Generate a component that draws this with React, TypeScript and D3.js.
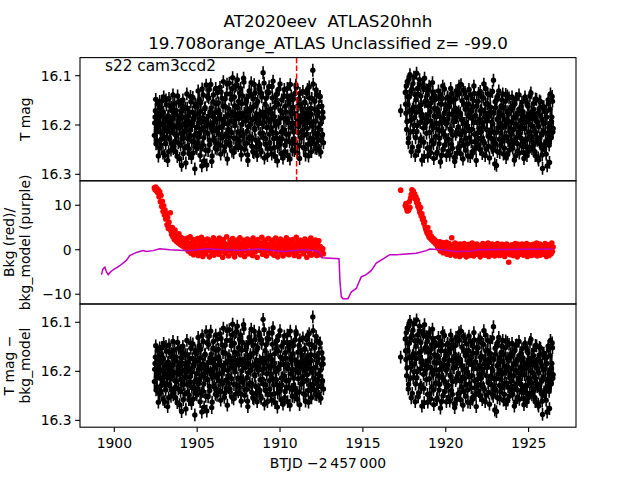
import React from "react";
import * as d3 from "d3";

// ---- data ----
const cadenceDays = 0.04;
const seg1Start = 1902.42;
const seg2Start = 1917.56;
const interleaveOffset = 0.02;
const magErr = 0.013;

const seg1Mag = [
  16.221, 16.184, 16.148, 16.205, 16.232, 16.176, 16.263, 16.195, 16.152, 16.214, 16.241, 16.168, 16.199, 16.257, 16.143, 16.226,
  16.187, 16.238, 16.159, 16.212, 16.272, 16.181, 16.146, 16.229, 16.196, 16.251, 16.164, 16.208, 16.139, 16.243, 16.177, 16.219,
  16.254, 16.171, 16.203, 16.141, 16.236, 16.189, 16.268, 16.158, 16.217, 16.282, 16.183, 16.149, 16.227, 16.198, 16.246, 16.166,
  16.211, 16.137, 16.243, 16.192, 16.258, 16.174, 16.221, 16.153, 16.266, 16.201, 16.144, 16.234, 16.185, 16.289, 16.162, 16.217,
  16.248, 16.178, 16.131, 16.225, 16.193, 16.262, 16.155, 16.209, 16.127, 16.241, 16.186, 16.273, 16.167, 16.214, 16.119, 16.281,
  16.196, 16.252, 16.145, 16.231, 16.174, 16.118, 16.206, 16.263, 16.183, 16.139, 16.227, 16.191, 16.247, 16.157, 16.212, 16.134,
  16.238, 16.171, 16.205, 16.124, 16.259, 16.188, 16.146, 16.222, 16.112, 16.197, 16.244, 16.163, 16.218, 16.137, 16.269, 16.179,
  16.209, 16.115, 16.236, 16.182, 16.148, 16.253, 16.104, 16.193, 16.227, 16.161, 16.121, 16.246, 16.186, 16.108, 16.214, 16.152,
  16.232, 16.176, 16.126, 16.261, 16.199, 16.141, 16.219, 16.113, 16.249, 16.184, 16.156, 16.237, 16.172, 16.272, 16.203, 16.131,
  16.224, 16.166, 16.114, 16.243, 16.189, 16.147, 16.256, 16.207, 16.135, 16.231, 16.178, 16.262, 16.152, 16.198, 16.121, 16.239,
  16.181, 16.255, 16.143, 16.216, 16.094, 16.195, 16.267, 16.158, 16.228, 16.174, 16.133, 16.247, 16.189, 16.122, 16.236, 16.168,
  16.206, 16.259, 16.145, 16.111, 16.228, 16.183, 16.264, 16.154, 16.217, 16.137, 16.244, 16.192, 16.127, 16.233, 16.171, 16.258,
  16.149, 16.213, 16.267, 16.186, 16.128, 16.241, 16.173, 16.219, 16.141, 16.262, 16.195, 16.156, 16.234, 16.118, 16.205, 16.178,
  16.251, 16.164, 16.229, 16.252, 16.136, 16.197, 16.124, 16.243, 16.181, 16.215, 16.147, 16.268, 16.188, 16.158, 16.225, 16.171,
  16.132, 16.246, 16.199, 16.155, 16.261, 16.176, 16.218, 16.128, 16.239, 16.184, 16.145, 16.227, 16.166, 16.254, 16.202, 16.089,
  16.194, 16.238, 16.152, 16.217, 16.129, 16.248, 16.181, 16.231, 16.163, 16.209, 16.142, 16.255, 16.186, 16.221, 16.174, 16.236,
];

// magnitudes of the cadences between those above (no background sample kept)
const seg1MagB = [
  16.196, 16.171, 16.238, 16.214, 16.157, 16.189, 16.203, 16.246, 16.166, 16.182, 16.229, 16.151, 16.218, 16.174, 16.208, 16.262,
  16.193, 16.149, 16.225, 16.207, 16.183, 16.254, 16.198, 16.162, 16.215, 16.236, 16.171, 16.187, 16.248, 16.202, 16.156, 16.233,
  16.179, 16.221, 16.264, 16.195, 16.153, 16.206, 16.188, 16.241, 16.172, 16.227, 16.199, 16.258, 16.164, 16.213, 16.185, 16.277,
  16.202, 16.166, 16.228, 16.181, 16.249, 16.211, 16.142, 16.196, 16.233, 16.174, 16.257, 16.189, 16.221, 16.158, 16.243, 16.205,
  16.163, 16.236, 16.197, 16.148, 16.215, 16.172, 16.244, 16.283, 16.186, 16.139, 16.226, 16.204, 16.165, 16.251, 16.191, 16.142,
  16.217, 16.182, 16.128, 16.239, 16.201, 16.166, 16.274, 16.211, 16.153, 16.194, 16.232, 16.175, 16.126, 16.208, 16.249, 16.187,
  16.155, 16.219, 16.178, 16.241, 16.133, 16.204, 16.226, 16.162, 16.191, 16.253, 16.147, 16.183, 16.235, 16.117, 16.198, 16.224,
  16.168, 16.241, 16.137, 16.192, 16.215, 16.126, 16.174, 16.256, 16.143, 16.201, 16.181, 16.228, 16.119, 16.165, 16.242, 16.187,
  16.135, 16.214, 16.246, 16.157, 16.183, 16.223, 16.105, 16.176, 16.238, 16.192, 16.149, 16.213, 16.261, 16.142, 16.185, 16.228,
  16.171, 16.198, 16.139, 16.226, 16.254, 16.163, 16.118, 16.209, 16.184, 16.245, 16.156, 16.193, 16.236, 16.127, 16.178, 16.217,
  16.251, 16.136, 16.197, 16.174, 16.226, 16.115, 16.183, 16.239, 16.146, 16.205, 16.262, 16.171, 16.134, 16.219, 16.193, 16.248,
  16.176, 16.122, 16.215, 16.188, 16.246, 16.164, 16.201, 16.139, 16.227, 16.273, 16.158, 16.196, 16.241, 16.117, 16.186, 16.214,
  16.228, 16.175, 16.143, 16.209, 16.254, 16.162, 16.191, 16.233, 16.126, 16.187, 16.218, 16.149, 16.269, 16.173, 16.141, 16.237,
  16.196, 16.148, 16.214, 16.177, 16.236, 16.119, 16.185, 16.257, 16.161, 16.203, 16.242, 16.136, 16.194, 16.226, 16.167, 16.211,
  16.183, 16.221, 16.154, 16.248, 16.192, 16.135, 16.207, 16.169, 16.263, 16.123, 16.196, 16.238, 16.178, 16.146, 16.229, 16.117,
  16.214, 16.168, 16.247, 16.192, 16.137, 16.225, 16.174, 16.206, 16.251, 16.143, 16.198, 16.231, 16.162, 16.219, 16.185,
];

const seg1Bkg = [
  13.9, 13.5, 14.1, 13.2, 13.7, 12.8, 13.4, 11.9, 13.0, 10.8, 12.2, 9.7, 10.9, 8.6, 9.9, 7.8,
  8.9, 6.9, 8.1, 5.6, 7.3, 4.8, 6.2, 5.1, 8.3, 4.2, 3.4, 5.0, 2.9, 3.8, 2.3, 4.4,
  2.6, 1.9, 3.1, 2.4, 1.5, 3.6, 2.0, 1.2, 2.8, 1.7, 0.9, 2.5, 1.3, 0.6, 2.2, 1.0,
  1.8, 0.4, 2.6, -0.3, 1.5, 0.9, 2.9, -0.8, 1.2, 0.2, 2.3, -1.1, 1.6, 0.7, 2.1, -0.4,
  0.9, 2.5, -1.3, 1.1, 0.3, 1.9, -0.6, 2.8, 0.5, -1.5, 1.4, 0.1, 2.2, -0.9, 1.0, 0.6,
  2.4, -0.2, 1.3, -1.6, 0.8, 2.0, 0.2, -0.7, 1.7, 2.7, -1.2, 0.5, 1.5, -0.4, 2.1, 0.0,
  1.2, -1.0, 2.6, 0.4, -0.5, 1.8, 0.9, -1.7, 2.3, 0.1, 1.4, -0.8, 0.6, 2.9, -0.1, 1.1,
  -1.4, 0.7, 2.0, -0.3, 1.6, 0.3, 2.5, -0.9, 1.0, -1.6, 1.9, 0.5, -0.6, 2.2, 0.8, 1.3,
  0.2, 2.7, -1.1, 1.5, 0.6, -0.4, 2.1, 1.0, -1.5, 1.8, 0.4, -0.2, 2.4, 0.9, -0.9, 1.6,
  2.0, -0.7, 0.8, 1.4, -1.3, 2.6, 0.1, 1.2, -0.5, 1.9, 0.6, -1.7, 2.3, 0.3, 1.1, -0.1,
  1.5, 0.0, 2.8, -1.0, 0.9, 1.7, -0.6, 2.1, 0.4, -1.4, 1.3, 0.7, 2.5, -0.3, 1.0, 0.2,
  -0.8, 1.8, 0.5, 2.2, -1.2, 1.1, 0.3, 2.6, -0.4, 1.4, -1.6, 0.9, 1.9, 0.1, 2.4, -0.7,
  1.2, 0.6, -1.4, 2.0, 0.8, -0.2, 1.6, 2.7, -0.9, 0.4, 1.3, -1.1, 2.2, 0.0, 1.7, 0.5,
  -0.5, 2.3, 1.0, -1.3, 1.5, 0.3, 2.8, -0.6, 0.9, 1.9, -1.5, 0.7, 2.1, -0.2, 1.2, 0.4,
  1.8, -0.9, 0.6, 2.4, -0.1, 1.3, -1.7, 0.8, 2.0, 0.2, -0.7, 1.6, 2.6, -1.2, 0.5, 1.1,
  0.3, 1.7, -0.8, 2.2, 0.9, -1.3, 1.4, 0.1, 2.0, -0.5, 0.7, -1.1, 0.4, -0.6, 0.2, -0.9,
];

const loneTime = 1917.28;
const loneMag = 16.171;
const loneBkg = 13.4;

const seg2Mag = [
  16.134, 16.176, 16.209, 16.112, 16.158, 16.227, 16.143, 16.098, 16.191, 16.254, 16.127, 16.168, 16.213, 16.103, 16.185, 16.262,
  16.149, 16.095, 16.201, 16.137, 16.244, 16.172, 16.118, 16.228, 16.159, 16.271, 16.186, 16.124, 16.235, 16.105, 16.197, 16.151,
  16.217, 16.139, 16.263, 16.178, 16.121, 16.246, 16.192, 16.155, 16.232, 16.114, 16.206, 16.268, 16.166, 16.141, 16.224, 16.183,
  16.255, 16.173, 16.131, 16.238, 16.196, 16.275, 16.158, 16.212, 16.146, 16.249, 16.187, 16.127, 16.221, 16.169, 16.262, 16.194,
  16.143, 16.229, 16.178, 16.261, 16.154, 16.211, 16.136, 16.247, 16.193, 16.172, 16.266, 16.148, 16.219, 16.185, 16.257, 16.138,
  16.204, 16.121, 16.243, 16.176, 16.118, 16.232, 16.189, 16.269, 16.157, 16.214, 16.134, 16.251, 16.197, 16.166, 16.238, 16.182,
  16.128, 16.226, 16.264, 16.171, 16.209, 16.147, 16.253, 16.195, 16.136, 16.234, 16.181, 16.272, 16.162, 16.216, 16.152, 16.241,
  16.188, 16.132, 16.227, 16.169, 16.258, 16.203, 16.145, 16.236, 16.176, 16.126, 16.249, 16.192, 16.157, 16.223, 16.183, 16.267,
  16.139, 16.211, 16.174, 16.246, 16.198, 16.109, 16.233, 16.279, 16.165, 16.215, 16.148, 16.254, 16.186, 16.131, 16.229, 16.177,
  16.242, 16.161, 16.206, 16.137, 16.259, 16.189, 16.224, 16.152, 16.266, 16.196, 16.141, 16.232, 16.178, 16.251, 16.208, 16.164,
  16.219, 16.143, 16.247, 16.185, 16.231, 16.158, 16.263, 16.199, 16.146, 16.238, 16.176, 16.214, 16.257, 16.168, 16.226, 16.191,
  16.154, 16.236, 16.181, 16.268, 16.207, 16.149, 16.244, 16.193, 16.229, 16.162, 16.253, 16.186, 16.141, 16.221, 16.174, 16.248,
  16.203, 16.157, 16.239, 16.184, 16.262, 16.215, 16.148, 16.231, 16.196, 16.271, 16.167, 16.226, 16.153, 16.244, 16.188, 16.288,
  16.212, 16.163, 16.249, 16.196, 16.235, 16.172, 16.283, 16.218, 16.156, 16.241, 16.201, 16.137, 16.226, 16.184, 16.152, 16.207,
];

const seg2MagB = [
  16.158, 16.121, 16.193, 16.142, 16.236, 16.107, 16.172, 16.214, 16.131, 16.188, 16.245, 16.116, 16.164, 16.201, 16.138, 16.226,
  16.174, 16.213, 16.126, 16.252, 16.163, 16.108, 16.195, 16.141, 16.233, 16.179, 16.119, 16.206, 16.264, 16.153, 16.187, 16.129,
  16.194, 16.247, 16.161, 16.128, 16.215, 16.173, 16.256, 16.146, 16.201, 16.133, 16.238, 16.182, 16.149, 16.224, 16.197, 16.258,
  16.168, 16.209, 16.147, 16.227, 16.183, 16.139, 16.262, 16.194, 16.121, 16.216, 16.176, 16.241, 16.159, 16.198, 16.232, 16.145,
  16.187, 16.253, 16.162, 16.208, 16.126, 16.239, 16.178, 16.221, 16.147, 16.193, 16.274, 16.166, 16.131, 16.214, 16.182, 16.246,
  16.173, 16.136, 16.219, 16.258, 16.189, 16.151, 16.212, 16.129, 16.241, 16.197, 16.168, 16.227, 16.144, 16.203, 16.263, 16.158,
  16.211, 16.178, 16.139, 16.234, 16.186, 16.257, 16.163, 16.121, 16.219, 16.181, 16.247, 16.152, 16.195, 16.228, 16.136, 16.207,
  16.249, 16.171, 16.214, 16.143, 16.196, 16.232, 16.117, 16.184, 16.262, 16.158, 16.209, 16.191, 16.137, 16.243, 16.175, 16.218,
  16.164, 16.227, 16.194, 16.132, 16.251, 16.176, 16.215, 16.153, 16.238, 16.282, 16.189, 16.141, 16.206, 16.173, 16.256, 16.197,
  16.216, 16.149, 16.233, 16.181, 16.165, 16.247, 16.202, 16.138, 16.224, 16.173, 16.259, 16.192, 16.145, 16.213, 16.237, 16.169,
  16.195, 16.238, 16.162, 16.209, 16.271, 16.184, 16.147, 16.226, 16.178, 16.253, 16.203, 16.139, 16.218, 16.192, 16.163, 16.242,
  16.207, 16.173, 16.256, 16.196, 16.143, 16.229, 16.185, 16.262, 16.158, 16.214, 16.178, 16.245, 16.199, 16.135, 16.224, 16.187,
  16.236, 16.168, 16.211, 16.254, 16.147, 16.192, 16.226, 16.176, 16.267, 16.203, 16.151, 16.238, 16.182, 16.219, 16.261, 16.164,
  16.197, 16.242, 16.173, 16.216, 16.259, 16.184, 16.231, 16.149, 16.205, 16.276, 16.168, 16.223, 16.193, 16.142, 16.214,
];

const seg2Bkg = [
  9.9, 10.4, 9.3, 8.7, 9.6, 8.9, 10.8, 9.5, 11.6, 12.4, 13.5, 12.8, 13.2, 12.1, 12.6, 11.4,
  11.9, 10.6, 11.2, 9.8, 10.3, 9.1, 8.4, 9.5, 7.6, 8.1, 6.8, 7.2, 5.9, 6.3, 5.1, 4.6,
  4.2, 3.7, 5.0, 3.3, 2.8, 3.9, 2.5, 3.1, 2.2, 2.7, 1.9, 2.4, 1.6, 2.1, 1.3, 1.8,
  1.1, 0.6, 1.5, 0.2, 1.8, -0.3, 1.0, 0.4, 1.6, -0.7, 0.8, 1.3, -0.2, 0.5, 1.7, -1.0,
  0.9, -0.5, 1.4, 0.3, -1.2, 0.7, 2.7, -0.1, 1.1, -0.8, 0.4, 1.5, -1.4, 0.6, 0.0, 1.2,
  -0.6, 0.8, -1.5, 1.3, 0.2, -0.4, 1.0, -1.1, 0.5, 1.4, -0.9, 0.1, -1.6, 0.9, 0.3, -0.2,
  1.2, -1.3, 0.4, 0.7, -0.7, 1.5, -0.1, -1.4, 0.6, 1.1, -0.5, 0.2, 1.3, -1.0, 0.8, -0.3,
  0.5, -1.6, 1.0, 0.1, -0.8, 1.4, -0.4, 0.7, -1.2, 0.3, 1.2, -0.6, 0.0, 1.5, -1.5, 0.6,
  -0.2, 0.9, -1.1, 1.3, 0.4, -0.7, 0.8, -1.4, 1.1, 0.2, -0.9, 1.4, -0.3, 0.5, -1.3, 1.0,
  0.1, -0.6, 1.2, -1.2, 0.7, 0.3, -1.5, 1.0, -0.4, 1.3, -0.8, 0.6, -2.8, 0.0, -1.1, 0.9,
  -0.5, 1.1, 0.4, -1.3, 0.8, -0.2, 1.4, -0.9, 0.2, -1.6, 1.2, 0.5, -0.7, 0.9, -1.0, 0.3,
  1.3, -0.4, -1.2, 0.6, 1.0, -0.8, 0.1, 1.4, -1.5, 0.4, -0.1, 1.1, -0.9, 0.7, -1.3, 0.2,
  -0.7, 1.2, 0.3, -1.1, 0.9, -0.3, 1.5, -1.4, 0.5, 0.0, -0.8, 1.3, -1.2, 0.6, 1.0, -0.5,
  0.8, -1.0, 0.2, 1.4, -0.6, -1.5, 0.7, 1.1, -0.2, -1.3, 0.9, 0.4, -0.9, 1.5, -0.4, 0.6,
];

const modelTime = [
  1899.23, 1899.32, 1899.43, 1899.53, 1899.63, 1899.77, 1899.93, 1900.33, 1900.73, 1900.93,
  1901.34, 1901.74, 1901.94, 1902.34, 1902.74, 1903.35, 1904.55, 1905.56, 1906.56, 1907.57,
  1908.78, 1910.18, 1911.39, 1912.19, 1912.39, 1912.53, 1913.56, 1913.62, 1913.70, 1913.80,
  1914.10, 1914.30, 1914.60, 1914.90, 1915.20, 1915.50, 1915.81, 1916.20, 1916.62, 1917.02,
  1918.23, 1918.83, 1919.03, 1919.83, 1920.64, 1921.64, 1921.85, 1926.47,
];
const modelBkg = [
  -5.6, -4.3, -3.9, -5.0, -5.6, -5.0, -4.5, -3.6, -2.4, -1.3,
  -0.6, -0.2, -0.4, -0.2, 0.2, 0.0, -0.2, 0.2, 0.0, -0.1,
  0.15, -0.4, 0.0, -0.2, -0.7, -1.8, -2.0, -7.3, -10.6, -11.0,
  -11.0, -9.5, -8.7, -6.1, -5.6, -4.7, -3.0, -2.1, -1.1, -1.1,
  -0.8, -0.2, 0.15, 0.0, -0.4, -0.3, 0.0, 0.15,
];

const markerTime = 1911.0;
const xTicks = [1900, 1905, 1910, 1915, 1920, 1925];
const magTicks = [16.1, 16.2, 16.3];
const bkgTicks = [10, 0, -10];
const titleLines = ["AT2020eev  ATLAS20hnh", "19.708orange_ATLAS Unclassified z= -99.0"];
const sectorLabel = "s22 cam3ccd2";
const xLabel = "BTJD \u22122\u2009457\u2009000";

// ---- layout ----
const W = 640;
const H = 480;
const left = 80;
const right = 576;
const panelTops = [57.6, 180.8, 304];
const panelH = 123.2;
const FONT = "DejaVu Sans, Verdana, sans-serif";
const PURPLE = "#bf00bf";

type Pt = { t: number; mag: number; bkg: number };
type MagPt = { t: number; mag: number };

const points: Pt[] = [
  ...seg1Mag.map((m, i) => ({ t: seg1Start + i * cadenceDays, mag: m, bkg: seg1Bkg[i] })),
  { t: loneTime, mag: loneMag, bkg: loneBkg },
  ...seg2Mag.map((m, i) => ({ t: seg2Start + i * cadenceDays, mag: m, bkg: seg2Bkg[i] })),
];

const magPoints: MagPt[] = [
  ...points.map((p) => ({ t: p.t, mag: p.mag })),
  ...seg1MagB.map((m, i) => ({ t: seg1Start + interleaveOffset + i * cadenceDays, mag: m })),
  ...seg2MagB.map((m, i) => ({ t: seg2Start + interleaveOffset + i * cadenceDays, mag: m })),
].sort((a, b) => a.t - b.t);

const fmtTick = (v: number) => (v < 0 ? "\u2212" + Math.abs(v) : String(v));

export default function App() {
  const x = d3.scaleLinear().domain([1897.93, 1927.86]).range([left, right]);
  const y1 = d3.scaleLinear().domain([16.0633, 16.3132]).range([panelTops[0], panelTops[0] + panelH]);
  const y2 = d3.scaleLinear().domain([15.5, -12.2]).range([panelTops[1], panelTops[1] + panelH]);
  const y3 = d3.scaleLinear().domain([16.0627, 16.314]).range([panelTops[2], panelTops[2] + panelH]);

  const modelLine = d3
    .line<number>()
    .x((_, i) => x(modelTime[i]))
    .y((v) => y2(v))(modelBkg);

  const magPanel = (y: d3.ScaleLinear<number, number>, clipId: string) => (
    <g clipPath={`url(#${clipId})`}>
      {magPoints.map((p, i) => (
        <line
          key={"e" + i}
          x1={x(p.t)}
          x2={x(p.t)}
          y1={y(p.mag - magErr)}
          y2={y(p.mag + magErr)}
          stroke="#000"
          strokeWidth={1.6}
        />
      ))}
      {magPoints.map((p, i) => (
        <circle key={"c" + i} cx={x(p.t)} cy={y(p.mag)} r={2.7} fill="#000" />
      ))}
    </g>
  );

  const yAxis = (y: d3.ScaleLinear<number, number>, ticks: number[]) => (
    <g>
      {ticks.map((v) => (
        <g key={v} transform={`translate(0,${y(v)})`}>
          <line x1={left - 4.9} x2={left} stroke="#000" strokeWidth={1.1} />
          <text x={left - 8.4} dy="0.35em" textAnchor="end" fontSize={13.9} fontFamily={FONT}>
            {fmtTick(v)}
          </text>
        </g>
      ))}
    </g>
  );

  const bottom = panelTops[2] + panelH;

  return (
    <svg
      width={W}
      height={H}
      viewBox={`0 0 ${W} ${H}`}
      style={{ position: "absolute", left: 0, top: 0, background: "#fff" }}
    >
      <defs>
        {panelTops.map((t, i) => (
          <clipPath id={`clip${i}`} key={i}>
            <rect x={left} y={t} width={right - left} height={panelH} />
          </clipPath>
        ))}
      </defs>
      <rect x={0} y={0} width={W} height={H} fill="#fff" />

      {/* title */}
      {titleLines.map((s, i) => (
        <text
          key={i}
          x={(left + right) / 2}
          y={27 + i * 21.5}
          textAnchor="middle"
          fontSize={16.7}
          fontFamily={FONT}
          style={{ whiteSpace: "pre" }}
        >
          {s}
        </text>
      ))}

      {/* panel 1 */}
      {magPanel(y1, "clip0")}
      <line
        x1={x(markerTime)}
        x2={x(markerTime)}
        y1={panelTops[0]}
        y2={panelTops[0] + panelH}
        stroke="#ff0000"
        strokeWidth={1.5}
        strokeDasharray="5.55 2.4"
      />
      {yAxis(y1, magTicks)}
      <text
        transform={`translate(29.5,${panelTops[0] + panelH / 2}) rotate(-90)`}
        textAnchor="middle"
        fontSize={13.9}
        fontFamily={FONT}
      >
        T mag
      </text>

      {/* panel 2 */}
      <g clipPath="url(#clip1)">
        {points.map((p, i) => (
          <circle key={"b" + i} cx={x(p.t)} cy={y2(p.bkg)} r={2.8} fill="#ff0000" />
        ))}
        <path d={modelLine || ""} fill="none" stroke={PURPLE} strokeWidth={1.5} />
      </g>
      {yAxis(y2, bkgTicks)}
      <text
        transform={`translate(13.5,${panelTops[1] + panelH / 2}) rotate(-90)`}
        textAnchor="middle"
        fontSize={13.9}
        fontFamily={FONT}
      >
        Bkg (red)/
      </text>
      <text
        transform={`translate(29.5,${panelTops[1] + panelH / 2}) rotate(-90)`}
        textAnchor="middle"
        fontSize={13.9}
        fontFamily={FONT}
      >
        bkg_model (purple)
      </text>

      {/* panel 3 */}
      {magPanel(y3, "clip2")}
      {yAxis(y3, magTicks)}
      <text
        transform={`translate(13.5,${panelTops[2] + panelH / 2}) rotate(-90)`}
        textAnchor="middle"
        fontSize={13.9}
        fontFamily={FONT}
      >
        T mag {"\u2212"}
      </text>
      <text
        transform={`translate(29.5,${panelTops[2] + panelH / 2}) rotate(-90)`}
        textAnchor="middle"
        fontSize={13.9}
        fontFamily={FONT}
      >
        bkg_model
      </text>

      {/* x axis */}
      {xTicks.map((v) => (
        <g key={v} transform={`translate(${x(v)},${bottom})`}>
          <line y1={0} y2={4.9} stroke="#000" strokeWidth={1.1} />
          <text y={20.5} textAnchor="middle" fontSize={13.9} fontFamily={FONT}>
            {v}
          </text>
        </g>
      ))}
      <text x={(left + right) / 2} y={467.5} textAnchor="middle" fontSize={13.9} fontFamily={FONT}>
        {xLabel}
      </text>

      {/* frames */}
      {panelTops.map((t, i) => (
        <rect
          key={i}
          x={left}
          y={t}
          width={right - left}
          height={panelH}
          fill="none"
          stroke="#000"
          strokeWidth={1.1}
        />
      ))}

      <text x={105} y={70.5} fontSize={15.3} fontFamily={FONT}>
        {sectorLabel}
      </text>
    </svg>
  );
}
